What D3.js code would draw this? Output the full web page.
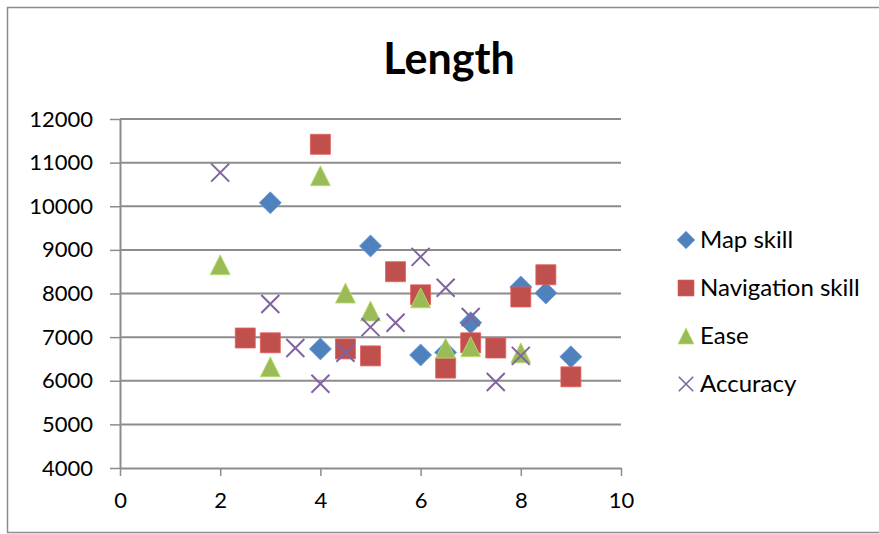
<!DOCTYPE html>
<html>
<head>
<meta charset="utf-8">
<script src="https://cdn.jsdelivr.net/npm/d3@7"></script>
<style>
  html, body { margin: 0; padding: 0; background: #fff; }
  svg { display: block; font-family: Lato, "Open Sans", sans-serif; }
</style>
</head>
<body>
<svg id="chart" width="879" height="534"></svg>
<script>
// Series values (x, length)
const mapSkill = [[3, 10080], [4, 6730], [5, 9090], [6, 6590], [6.5, 6650], [7, 7330], [8, 8150], [8.5, 8010], [9, 6550]];
const navigationSkill = [[2.5, 6980], [3, 6870], [4, 11420], [4.5, 6730], [5, 6570], [5.5, 8500], [6, 7970], [6.5, 6290], [7, 6870], [7.5, 6750], [8, 7920], [8.5, 8430], [9, 6090]];
const ease = [[2, 8660], [3, 6320], [4, 10700], [4.5, 8010], [5, 7600], [6, 7900], [6.5, 6750], [7, 6780], [8, 6640]];
const accuracy = [[2, 10770], [3, 7760], [3.5, 6750], [4, 5930], [4.5, 6640], [5, 7230], [5.5, 7330], [6, 8840], [6.5, 8130], [7, 7460], [7.5, 5970], [8, 6570]];

const seriesNames = ["Map skill", "Navigation skill", "Ease", "Accuracy"];
const seriesColors = ["#4F81BD", "#C0504D", "#9BBB59", "#8064A2"];
const seriesShapes = ["diamond", "square", "triangle", "cross"];
const xTicks = [0, 2, 4, 6, 8, 10];
const yTicks = [4000, 5000, 6000, 7000, 8000, 9000, 10000, 11000, 12000];
const chartTitle = "Length";

const series = [mapSkill, navigationSkill, ease, accuracy].map((values, i) => ({
  name: seriesNames[i], color: seriesColors[i], shape: seriesShapes[i], values
}));

const svg = d3.select("#chart");

// Outer chart frame
svg.append("rect")
  .attr("x", 7.5).attr("y", 7.5).attr("width", 900).attr("height", 525)
  .attr("fill", "#fff").attr("stroke", "#8c8c8c").attr("stroke-width", 1.5);

const plot = { left: 120, right: 621, top: 119, bottom: 468 };
const x = d3.scaleLinear().domain([0, 10]).range([plot.left, plot.right]);
const y = d3.scaleLinear().domain([4000, 12000]).range([plot.bottom, plot.top]);

// Horizontal gridlines
svg.append("g")
  .selectAll("line")
  .data(yTicks.filter(t => t > 4000))
  .join("line")
  .attr("x1", plot.left).attr("x2", plot.right)
  .attr("y1", d => y(d)).attr("y2", d => y(d))
  .attr("stroke", "#8c8c8c").attr("stroke-width", 2);

// Y axis
const yAxis = svg.append("g")
  .attr("transform", `translate(${plot.left},0)`)
  .call(d3.axisLeft(y).tickValues(yTicks).tickFormat(d3.format("d"))
    .tickSize(10).tickPadding(17).tickSizeOuter(0));
// X axis
const xAxis = svg.append("g")
  .attr("transform", `translate(0,${plot.bottom})`)
  .call(d3.axisBottom(x).tickValues(xTicks).tickFormat(d3.format("d"))
    .tickSize(8).tickPadding(16).tickSizeOuter(0));

[yAxis, xAxis].forEach(g => {
  g.select(".domain").attr("stroke", "#8c8c8c").attr("stroke-width", 2);
  g.selectAll(".tick line").attr("stroke", "#8c8c8c").attr("stroke-width", 1.5);
  g.selectAll(".tick text").attr("fill", "#000").style("font-size", "22px")
    .style("font-family", "Lato, 'Open Sans', sans-serif");
});

// Marker shapes, about 20px across
function marker(sel, shape, color) {
  const h = 10;
  if (shape === "cross") {
    const c = 9;
    sel.append("path")
      .attr("d", `M${-c},${-c}L${c},${c}M${-c},${c}L${c},${-c}`)
      .attr("stroke", color).attr("stroke-width", 2).attr("fill", "none");
    return;
  }
  const paths = {
    diamond: `M0,${-h - 1}L${h + 1},0L0,${h + 1}L${-h - 1},0Z`,
    square: `M${-h},${-h}H${h}V${h}H${-h}Z`,
    triangle: `M0,${-h}L${h},${h}H${-h}Z`
  };
  sel.append("path")
    .attr("d", paths[shape])
    .attr("fill", color)
    .attr("stroke", d3.color(color).brighter(0.5)).attr("stroke-width", 0.8)
    .attr("stroke-linejoin", "round");
}

// Points, drawn series by series so later series sit on top
series.forEach(s => {
  svg.append("g")
    .selectAll("g")
    .data(s.values)
    .join("g")
    .attr("transform", d => `translate(${x(d[0])},${y(d[1])})`)
    .each(function () { marker(d3.select(this), s.shape, s.color); });
});

// Title
svg.append("text")
  .attr("x", 449).attr("y", 74)
  .attr("text-anchor", "middle")
  .style("font-size", "43px").style("font-weight", "bold")
  .text(chartTitle);

// Legend
const legend = svg.append("g");
series.forEach((s, i) => {
  const row = legend.append("g").attr("transform", `translate(686,${240 + i * 48})`);
  const m = row.append("g").attr("transform", "scale(0.8)");
  marker(m, s.shape, s.color);
  row.append("text")
    .attr("x", 14).attr("y", 0).attr("dy", "0.35em")
    .style("font-size", "24px")
    .text(s.name);
});
</script>
</body>
</html>
